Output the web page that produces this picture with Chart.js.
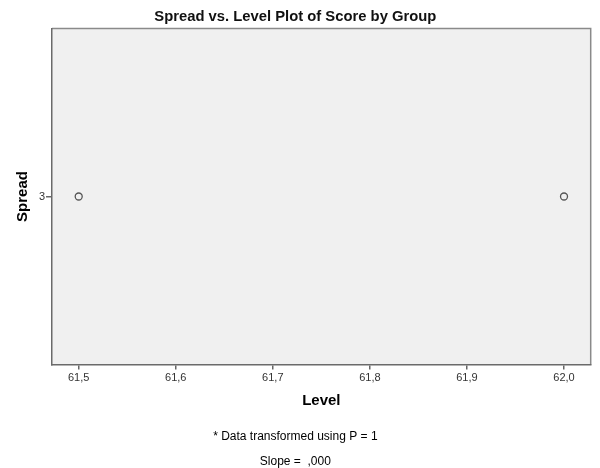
<!DOCTYPE html>
<html>
<head>
<meta charset="utf-8">
<script src="https://cdn.jsdelivr.net/npm/chart.js@4"></script>
<style>
  html, body { margin: 0; padding: 0; background: #fff; }
  #wrap { width: 600px; height: 468px; }
</style>
</head>
<body>
<div id="wrap"><canvas id="spreadChart" width="600" height="468"></canvas></div>
<script>
// data
const levels = [61.5, 62.0];
const spreads = [3, 3];
const xTicks = [61.5, 61.6, 61.7, 61.8, 61.9, 62.0];
const yTicks = [3];
const footnotes = ['* Data transformed using P = 1', 'Slope =  ,000'];

const FONT = "'Liberation Sans', Arial, sans-serif";

// grey plot background plus thin frame on top/right
const plotFrame = {
    id: 'plotFrame',
    beforeDraw(chart) {
        const { ctx, chartArea: a } = chart;
        ctx.save();
        ctx.fillStyle = '#f0f0f0';
        ctx.fillRect(a.left, a.top, a.right - a.left, a.bottom - a.top);
        ctx.strokeStyle = '#8a8a8a';
        ctx.lineWidth = 1.5;
        ctx.beginPath();
        ctx.moveTo(a.left, a.top);
        ctx.lineTo(a.right, a.top);
        ctx.lineTo(a.right, a.bottom);
        ctx.stroke();
        ctx.restore();
    }
};

function createSpreadChart() {
    const ctx = document.getElementById('spreadChart');
    if (!ctx) return;

    new Chart(ctx, {
        type: 'scatter',
        data: {
            datasets: [{
                data: levels.map((v, i) => ({ x: v, y: spreads[i] })),
                pointStyle: 'circle',
                pointRadius: 3.5,
                pointHoverRadius: 3.5,
                borderColor: '#555555',
                borderWidth: 1.3,
                backgroundColor: 'rgba(0,0,0,0)'
            }]
        },
        options: {
            responsive: false,
            animation: false,
            layout: { padding: { left: 0, right: 9.3, top: 0, bottom: 0 } },
            plugins: {
                legend: { display: false },
                tooltip: { enabled: false },
                title: {
                    display: true,
                    text: 'Spread vs. Level Plot of Score by Group',
                    color: '#111',
                    font: { family: FONT, size: 14.8, weight: 'bold', lineHeight: 1.2 },
                    padding: { top: 7.6, bottom: 3.1 }
                },
                subtitle: {
                    display: true,
                    position: 'bottom',
                    text: footnotes,
                    color: '#000',
                    font: { family: FONT, size: 12, weight: 'normal', lineHeight: 25 / 12 },
                    padding: { top: 0, bottom: -6.5 }
                }
            },
            scales: {
                x: {
                    type: 'linear',
                    min: 61.4725,
                    max: 62.0275,
                    afterBuildTicks: s => { s.ticks = xTicks.map(v => ({ value: v })); },
                    ticks: {
                        color: '#333',
                        font: { family: FONT, size: 11 },
                        padding: 2,
                        maxRotation: 0,
                        callback: v => v.toFixed(1).replace('.', ',')
                    },
                    grid: { drawOnChartArea: false, drawTicks: true, tickLength: 5, color: '#666', lineWidth: 1.5 },
                    border: { display: true, color: '#6a6a6a', width: 1.5 },
                    title: {
                        display: true,
                        text: 'Level',
                        color: '#000',
                        font: { family: FONT, size: 15, weight: 'bold', lineHeight: 1.2 },
                        padding: { top: 5.3, bottom: 14.5 }
                    }
                },
                y: {
                    type: 'linear',
                    min: 2,
                    max: 4,
                    afterBuildTicks: s => { s.ticks = yTicks.map(v => ({ value: v })); },
                    ticks: {
                        color: '#333',
                        font: { family: FONT, size: 11 },
                        padding: 1
                    },
                    grid: { drawOnChartArea: false, drawTicks: true, tickLength: 6, color: '#666', lineWidth: 1.5 },
                    border: { display: true, color: '#6a6a6a', width: 1.5 },
                    title: {
                        display: true,
                        text: 'Spread',
                        color: '#000',
                        font: { family: FONT, size: 15, weight: 'bold', lineHeight: 1.2 },
                        padding: { top: 14, bottom: 5.9 }
                    }
                }
            }
        },
        plugins: [plotFrame]
    });
}

document.addEventListener('DOMContentLoaded', () => {
    createSpreadChart();
});
</script>
</body>
</html>
